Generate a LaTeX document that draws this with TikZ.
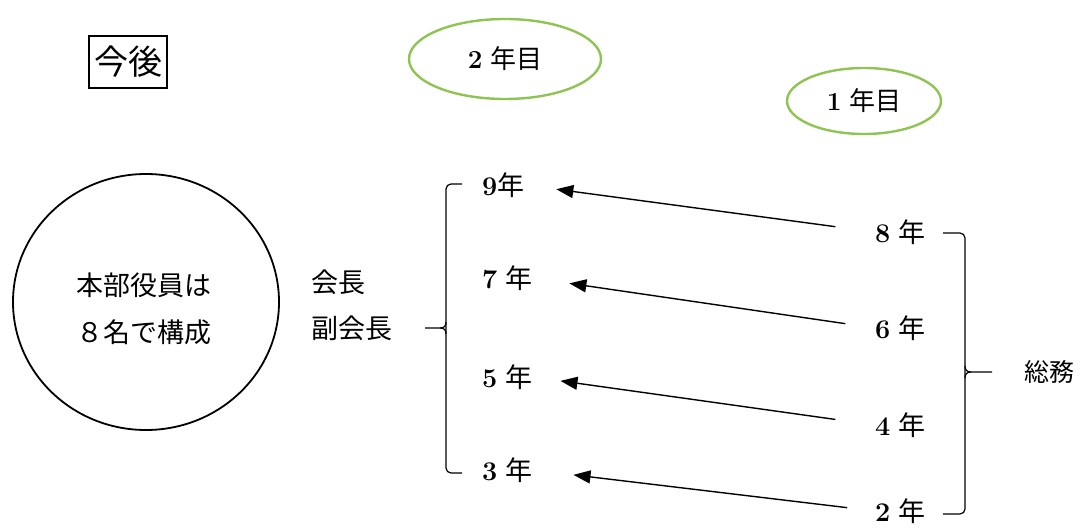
\documentclass[tikz,border=0pt]{standalone}
\usepackage{fontspec}
\usetikzlibrary{arrows.meta,shapes.geometric}
\newfontfamily\jpfont{Noto Sans CJK JP}
\definecolor{ovalgreen}{RGB}{143,196,84}
\begin{document}
\begin{tikzpicture}[x=1pt,y=-1pt,
  jtext/.style={inner sep=0pt, anchor=west, font=\jpfont\fontsize{27}{27}\selectfont},
  ctext/.style={inner sep=0pt, font=\jpfont\fontsize{27}{27}\selectfont},
  yr/.style={inner sep=0pt, anchor=west, font=\fontsize{27}{27}\selectfont},
  oval/.style={draw=ovalgreen, line width=2.4pt, ellipse, inner sep=0pt, font=\fontsize{26}{26}\selectfont},
  arr/.style={line width=1.4pt, -{Triangle[length=17pt,width=13pt]}},
  brace/.style={line width=1.2pt, rounded corners=5pt},
  bracetip/.style={line width=1.2pt}]
\useasboundingbox (0,0) rectangle (1080,529);
% title box
\node[draw, line width=1.2pt, minimum width=78pt, minimum height=52pt, inner sep=0pt,
      font=\jpfont\fontsize{34}{34}\selectfont] (kongo) at (128,62) {今後};
% ovals
\node[oval, minimum width=192pt, minimum height=80pt] (y2) at (505,59) {\textbf{2} {\jpfont 年目}};
\node[oval, minimum width=154pt, minimum height=66pt] (y1) at (864,101) {\textbf{1} {\jpfont 年目}};
% circle
\node[draw, ellipse, line width=1.8pt, minimum width=266pt, minimum height=256pt] (circ) at (146,302) {};
\node[ctext] (c1) at (144,285) {本部役員は};
\node[ctext] (c2) at (144,332) {８名で構成};
% roles
\node[jtext] (kaicho) at (311,282) {会長};
\node[jtext] (fuku) at (311,328) {副会長};
% left years
\node[yr] (l9) at (482,185) {\textbf{9}{\jpfont 年}};
\node[yr] (l7) at (482,278) {\textbf{7} {\jpfont 年}};
\node[yr] (l5) at (482,377) {\textbf{5} {\jpfont 年}};
\node[yr] (l3) at (482,470) {\textbf{3} {\jpfont 年}};
% right years
\node[yr] (r8) at (875,232) {\textbf{8} {\jpfont 年}};
\node[yr] (r6) at (875,328) {\textbf{6} {\jpfont 年}};
\node[yr] (r4) at (875,425) {\textbf{4} {\jpfont 年}};
\node[yr] (r2) at (875,511) {\textbf{2} {\jpfont 年}};
% soumu
\node[jtext, font=\jpfont\fontsize{25}{25}\selectfont] (soumu) at (1024,372) {総務};
% left bracket
\draw[brace] (462,184) -- (446,184) -- (446,473) -- (462,473);
\draw[bracetip] (425,328) -- (440,328) .. controls (444,328) and (446,326) .. (446,322);
\draw[bracetip] (440,328) .. controls (444,328) and (446,330) .. (446,334);
% right bracket
\draw[brace] (943,233) -- (965,233) -- (965,514) -- (943,514);
\draw[bracetip] (992,372) -- (971,372) .. controls (967,372) and (965,370) .. (965,366);
\draw[bracetip] (971,372) .. controls (967,372) and (965,374) .. (965,378);
% arrows
\draw[arr, shorten <=40pt, shorten >=32pt] (r8.west) -- (l9.east);
\draw[arr, shorten <=30pt, shorten >=37pt] (r6.west) -- (l7.east);
\draw[arr, shorten <=40pt, shorten >=28pt] (r4.west) -- (l5.east);
\draw[arr, shorten <=28pt, shorten >=41pt] (r2.west) -- (l3.east);
\end{tikzpicture}
\end{document}
